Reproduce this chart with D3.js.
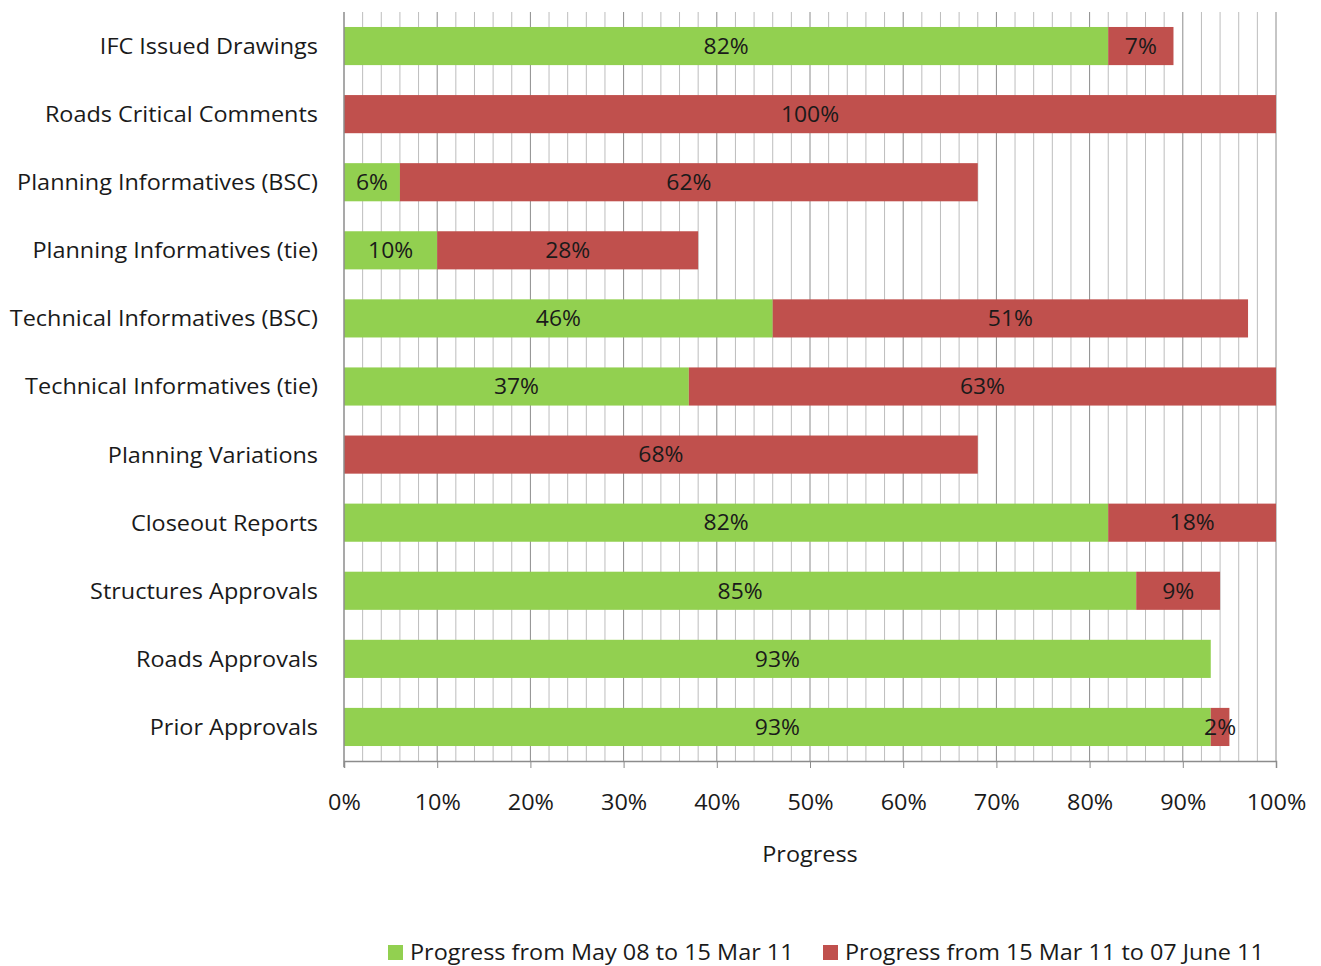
<!DOCTYPE html>
<html>
<head>
<meta charset="utf-8">
<script src="https://cdn.jsdelivr.net/npm/d3@7"></script>
<style>
  body { margin: 0; background: #fff; }
  svg { font-family: "Open Sans", Lato, sans-serif; }
</style>
</head>
<body>
<svg width="1321" height="966"></svg>
<script>
(function (d3) {
  'use strict';

  const categories = ['IFC Issued Drawings', 'Roads Critical Comments', 'Planning Informatives (BSC)',
    'Planning Informatives (tie)', 'Technical Informatives (BSC)', 'Technical Informatives (tie)',
    'Planning Variations', 'Closeout Reports', 'Structures Approvals', 'Roads Approvals', 'Prior Approvals'];
  const firstPeriod = [82, 0, 6, 10, 46, 37, 0, 82, 85, 93, 93];
  const secondPeriod = [7, 100, 62, 28, 51, 63, 68, 18, 9, 0, 2];
  const seriesNames = ['Progress from May 08 to 15 Mar 11', 'Progress from 15 Mar 11 to 07 June 11'];
  const tickValues = [0, 10, 20, 30, 40, 50, 60, 70, 80, 90, 100];

  const colors = ['#92d050', '#c0504d'];
  const fontFam = '"Open Sans", Lato, sans-serif';
  const sx = 1.065; // the source font is a bit wider than Open Sans

  const svg = d3.select('svg');
  const left = 344, right = 1276, top = 12, bottom = 761;

  const x = d3.scaleLinear().domain([0, 100]).range([left, right]);
  const y = d3.scaleBand().domain(categories).range([top, bottom]).paddingInner(0.44).paddingOuter(0.22);

  // minor gridlines every 2%, major every 10%
  const grid = svg.append('g');
  grid.selectAll('line')
    .data(d3.range(2, 101, 2))
    .join('line')
      .attr('x1', d => x(d)).attr('x2', d => x(d))
      .attr('y1', top).attr('y2', bottom)
      .attr('stroke', d => d % 10 === 0 ? '#8c8c8c' : '#bdbdbd')
      .attr('stroke-width', 1);

  const rows = categories.map((c, i) => ({ cat: c, a: firstPeriod[i], b: secondPeriod[i] }));

  const segs = [];
  rows.forEach(r => {
    segs.push({ cat: r.cat, x0: 0, v: r.a, s: 0 });
    segs.push({ cat: r.cat, x0: r.a, v: r.b, s: 1 });
  });

  svg.append('g').selectAll('rect')
    .data(segs.filter(d => d.v > 0))
    .join('rect')
      .attr('x', d => x(d.x0))
      .attr('y', d => y(d.cat))
      .attr('width', d => x(d.x0 + d.v) - x(d.x0))
      .attr('height', y.bandwidth())
      .attr('fill', d => colors[d.s]);

  svg.append('g').selectAll('text')
    .data(segs.filter(d => d.v > 0))
    .join('text')
      .attr('transform', d => `translate(${x(d.x0 + d.v / 2)},${y(d.cat) + y.bandwidth() / 2}) scale(${sx},1)`)
      .attr('dy', '0.36em')
      .attr('text-anchor', 'middle')
      .attr('font-size', 21.5)
      .attr('fill', '#1a1a1a')
      .text(d => d.v + '%');

  // axes
  svg.append('line')
    .attr('x1', left).attr('x2', left).attr('y1', top).attr('y2', bottom + 6)
    .attr('stroke', '#8c8c8c').attr('stroke-width', 1.5);

  const xAxis = svg.append('g')
    .attr('transform', `translate(0,${bottom})`)
    .call(d3.axisBottom(x).tickValues(tickValues).tickSize(7).tickPadding(26).tickFormat(d => d + '%'));
  xAxis.select('.domain').attr('stroke', '#8c8c8c').attr('stroke-width', 1.5);
  xAxis.selectAll('.tick line').attr('stroke', '#8c8c8c');
  xAxis.selectAll('.tick text')
    .attr('font-size', 22).attr('fill', '#1a1a1a').attr('font-family', fontFam)
    .attr('transform', `scale(${sx},1)`);

  svg.append('text')
    .attr('transform', `translate(${(left + right) / 2},862) scale(${sx},1)`)
    .attr('text-anchor', 'middle')
    .attr('font-size', 22).attr('fill', '#1a1a1a')
    .text('Progress');

  svg.append('g').selectAll('text')
    .data(categories)
    .join('text')
      .attr('transform', d => `translate(318,${y(d) + y.bandwidth() / 2}) scale(${sx},1)`)
      .attr('dy', '0.36em')
      .attr('text-anchor', 'end')
      .attr('font-size', 22)
      .attr('fill', '#1a1a1a')
      .text(d => d);

  // legend
  const legend = svg.append('g');
  const legendX = [388, 823];
  seriesNames.forEach((name, i) => {
    const lg = legend.append('g').attr('transform', `translate(${legendX[i]},952)`);
    lg.append('rect').attr('x', 0).attr('y', -7).attr('width', 15).attr('height', 15).attr('fill', colors[i]);
    lg.append('text').attr('transform', `translate(22,0) scale(${sx},1)`).attr('dy', '0.36em')
      .attr('font-size', 22).attr('fill', '#1a1a1a').text(name);
  });

}(d3));
</script>
</body>
</html>
